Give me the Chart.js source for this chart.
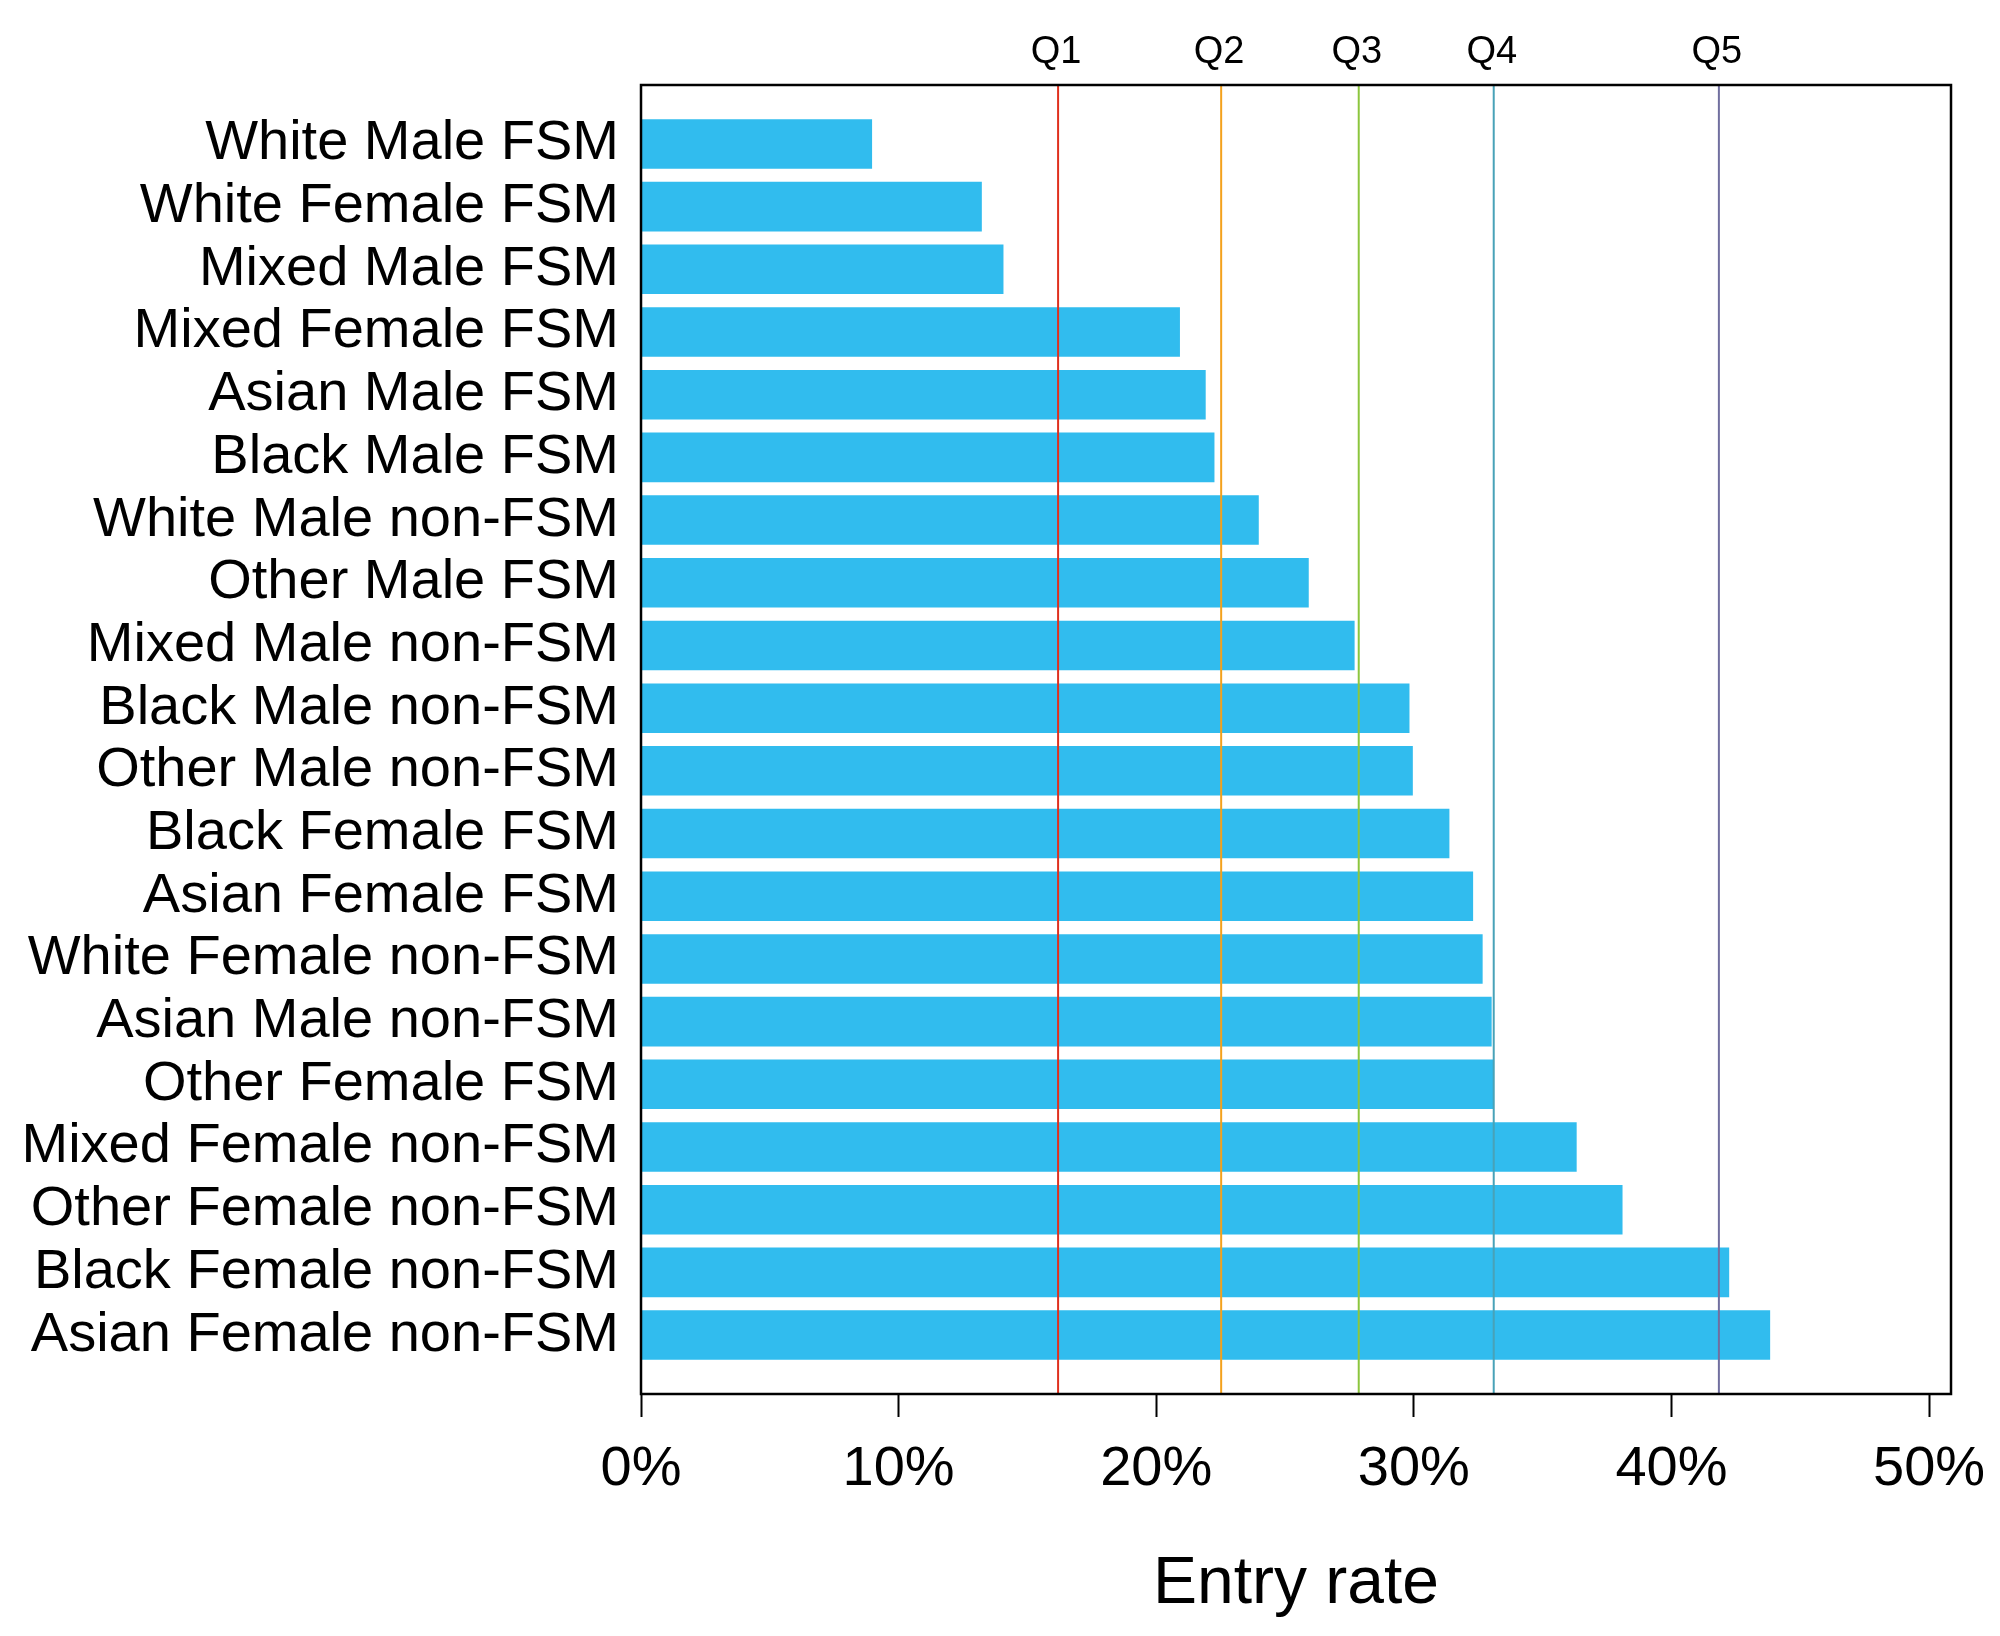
<!DOCTYPE html>
<html lang="en">
  <head>
    <meta charset="UTF-8" />
    <title>Entry rate by group</title>
    <style>
      body {
        margin: 0;
        background: #ffffff;
      }
      #chart {
        display: block;
      }
    </style>
  </head>
  <body>
    <canvas id="chart" width="2000" height="1636"></canvas>
    <script src="https://cdn.jsdelivr.net/npm/chart.js"></script>
    <script>
      const groups = [
        "White Male FSM",
        "White Female FSM",
        "Mixed Male FSM",
        "Mixed Female FSM",
        "Asian Male FSM",
        "Black Male FSM",
        "White Male non-FSM",
        "Other Male FSM",
        "Mixed Male non-FSM",
        "Black Male non-FSM",
        "Other Male non-FSM",
        "Black Female FSM",
        "Asian Female FSM",
        "White Female non-FSM",
        "Asian Male non-FSM",
        "Other Female FSM",
        "Mixed Female non-FSM",
        "Other Female non-FSM",
        "Black Female non-FSM",
        "Asian Female non-FSM",
      ];
      const entryRates = [
        8.97, 13.23, 14.07, 20.92, 21.92, 22.26, 23.98, 25.92, 27.7, 29.83,
        29.96, 31.38, 32.3, 32.67, 33.02, 33.08, 36.32, 38.1, 42.24, 43.83,
      ];
      const quintileNames = ["Q1", "Q2", "Q3", "Q4", "Q5"];
      const quintileRates = [16.19, 22.52, 27.86, 33.1, 41.84];
      const quintileColors = ["#e0301e", "#f4a11c", "#8cc63e", "#48a2b8", "#716f9f"];
      const xTicks = [0, 10, 20, 30, 40, 50];

      const font = "'Liberation Sans', Arial, sans-serif";

      // vertical quintile lines + labels, and the box round the plot
      const overlay = {
        id: "overlay",
        afterDatasetsDraw(chart) {
          const { ctx, chartArea, scales } = chart;
          ctx.save();
          quintileRates.forEach((q, i) => {
            const x = scales.x.getPixelForValue(q);
            ctx.strokeStyle = quintileColors[i];
            ctx.lineWidth = 2;
            ctx.beginPath();
            ctx.moveTo(x, chartArea.top);
            ctx.lineTo(x, chartArea.bottom);
            ctx.stroke();
            ctx.fillStyle = "#000";
            ctx.font = "38px " + font;
            ctx.textAlign = "center";
            ctx.textBaseline = "alphabetic";
            ctx.fillText(quintileNames[i], x - 2, 63);
          });
          ctx.strokeStyle = "#000";
          ctx.lineWidth = 2.5;
          ctx.strokeRect(
            chartArea.left,
            chartArea.top,
            chartArea.right - chartArea.left,
            chartArea.bottom - chartArea.top
          );
          ctx.restore();
        },
      };

      new Chart(document.getElementById("chart"), {
        type: "bar",
        data: {
          datasets: [
            {
              label: "Entry rate",
              data: entryRates.map((v, i) => ({ x: v, y: i })),
              backgroundColor: "#31bcee",
              borderWidth: 0,
              categoryPercentage: 1,
              barPercentage: 0.79,
            },
          ],
        },
        options: {
          indexAxis: "y",
          responsive: false,
          devicePixelRatio: 1,
          animation: false,
          layout: { padding: { top: 85, right: 49, left: 0, bottom: 0 } },
          plugins: {
            legend: { display: false },
            tooltip: { enabled: false },
          },
          scales: {
            x: {
              type: "linear",
              min: 0,
              max: 50.85,
              afterBuildTicks: (scale) => {
                scale.ticks = xTicks.map((v) => ({ value: v }));
              },
              afterFit: (scale) => {
                scale.height = 242;
                // keep the "50%" label from pulling the plot edge inwards
                scale.paddingLeft = 0;
                scale.paddingRight = 0;
              },
              border: { display: false },
              grid: {
                drawOnChartArea: false,
                drawTicks: true,
                tickLength: 23,
                tickWidth: 2,
                tickColor: "#000",
              },
              ticks: {
                color: "#000",
                padding: 19,
                maxRotation: 0,
                autoSkip: false,
                font: { family: font, size: 56 },
                callback: (v) => v + "%",
              },
              title: {
                display: true,
                text: "Entry rate",
                color: "#000",
                font: { family: font, size: 66 },
                padding: { top: 0, bottom: 12 },
              },
            },
            y: {
              type: "linear",
              reverse: true,
              offset: false,
              min: -0.94,
              max: 19.94,
              afterBuildTicks: (scale) => {
                scale.ticks = groups.map((g, i) => ({ value: i }));
              },
              afterFit: (scale) => {
                scale.width = 641;
              },
              border: { display: false },
              grid: { display: false },
              ticks: {
                color: "#000",
                padding: 14,
                autoSkip: false,
                font: { family: font, size: 56 },
                callback: (v) => groups[v],
              },
            },
          },
        },
        plugins: [overlay],
      });
    </script>
  </body>
</html>
